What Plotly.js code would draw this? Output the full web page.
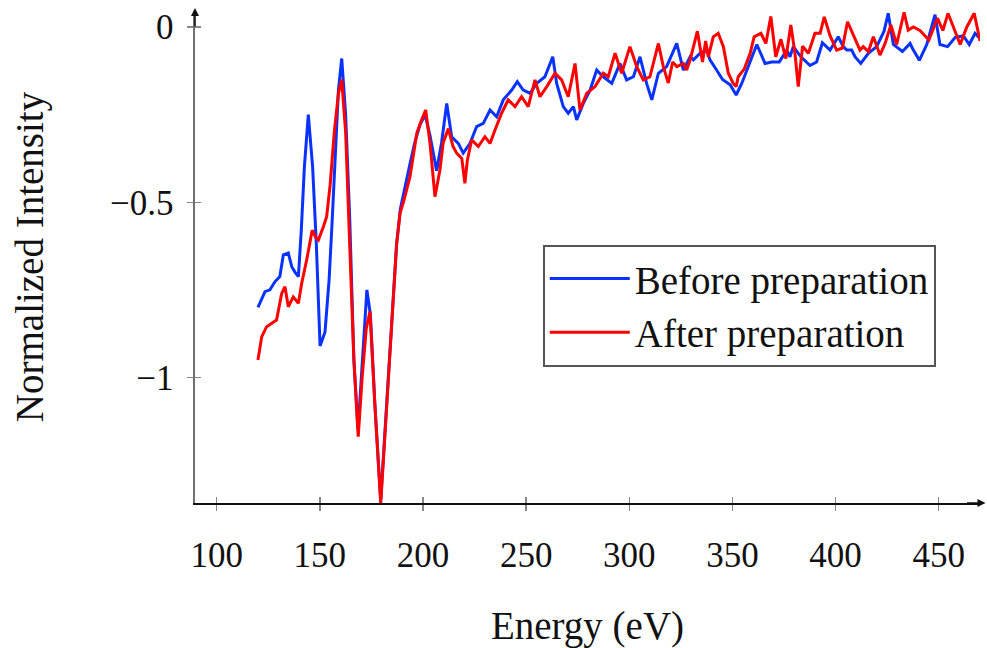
<!DOCTYPE html>
<html><head><meta charset="utf-8">
<script src="https://cdn.plot.ly/plotly-3.0.1.min.js"></script>
<style>html,body{margin:0;padding:0;background:#fff}#chart{width:987px;height:648px}</style>
</head><body><div id="chart"></div>
<script>
// Energy (eV) and normalized intensity
const energyBefore = [120,123.4,125.8,128.2,130.6,132.3,134.7,136.4,138,139.6,141,142.5,144.4,146.5,148.3,150.1,152.5,154.5,156,157.5,159,160.6,162.5,164.5,166.5,168.5,170.5,172.8,174.5,176.7,179.5,182.4,184.8,187.2,189,191,193.7,196,198.5,201,203.4,206.6,209,211.5,213.9,217.1,219.5,222.8,226,229.2,232.5,235.7,238.9,243,245.7,248.6,251.9,255.1,259.1,262.9,264.8,268,270.4,272.9,274.5,277.7,281,284.2,287.4,291.5,295.5,298.7,302,305.2,308.4,310.9,314.1,318.1,323,326.2,329.5,331.1,334.3,337.5,339.1,342,345.2,348.9,351.8,354.5,358.6,361.8,365.8,369,372.7,376.3,377.9,379.5,383.2,387.6,390.8,393.6,397.3,401.3,403.7,405.4,407.8,409.4,412.2,415.9,419.9,423.5,425.5,428,432.4,436.1,437.7,440.6,444.2,448.2,450.6,454.3,457.9,461.9,464.8,467.6,469.2,470];
const intensityBefore = [-0.80,-0.755,-0.75,-0.727,-0.712,-0.65,-0.645,-0.684,-0.70,-0.712,-0.58,-0.40,-0.25,-0.40,-0.62,-0.91,-0.87,-0.72,-0.55,-0.38,-0.18,-0.09,-0.25,-0.55,-0.95,-1.15,-0.95,-0.75,-0.82,-1.08,-1.35,-1.08,-0.84,-0.62,-0.52,-0.46,-0.39,-0.33,-0.28,-0.25,-0.31,-0.41,-0.33,-0.218,-0.313,-0.332,-0.36,-0.332,-0.284,-0.275,-0.237,-0.256,-0.208,-0.18,-0.156,-0.18,-0.189,-0.161,-0.142,-0.085,-0.161,-0.227,-0.246,-0.227,-0.265,-0.218,-0.18,-0.123,-0.142,-0.161,-0.104,-0.151,-0.142,-0.085,-0.161,-0.208,-0.132,-0.113,-0.047,-0.123,-0.085,-0.094,-0.075,-0.066,-0.094,-0.12,-0.15,-0.165,-0.194,-0.161,-0.10,-0.05,-0.104,-0.10,-0.10,-0.066,-0.085,-0.056,-0.085,-0.11,-0.10,-0.045,-0.066,-0.028,-0.056,-0.066,-0.066,-0.085,-0.104,-0.075,-0.056,-0.012,0.039,-0.05,-0.07,-0.047,-0.066,-0.095,-0.05,0.035,-0.05,-0.056,-0.03,-0.025,-0.05,-0.018,-0.028,-0.032];
const energyAfter = [120,121.8,124.2,126.7,129,131.5,133.1,134.7,137.1,139.6,141.2,143.6,145.2,146.3,148,149.3,151.7,153.3,155,157,159,160.6,162.5,164.5,166.5,168.6,170.5,172.5,174.3,176.7,179.5,182.4,184.8,187.2,188.9,190.5,193.7,197,199,201.3,203.4,205.8,208.2,209.8,212.3,214.5,216.3,218.8,220.3,221.5,223.6,226.8,230,232.5,234.9,238.1,241.3,244.6,247.8,251,254.3,256.7,260,264,267.2,270.4,273.7,276.1,279.4,283.4,287.4,289.8,293.1,296.3,300.3,303.6,306.8,310,314.1,316.5,318.9,321,323,326.2,327.8,329.5,333,335.5,337,338.3,340.7,343.1,345.6,348,350.4,351.8,352.8,355.7,358.6,360.5,363.8,366.2,368.6,371,373.5,375.9,378.3,380.3,381.9,384,386.8,390,392.5,394.5,397.3,400.5,403.3,405.8,409,411.8,413.4,415.9,418.3,421.5,424,426.8,429.6,433.2,435.2,437.7,440.9,445.2,449.4,452,454.5,457.1,460.4,463.6,467.2,470];
const intensityAfter = [-0.95,-0.884,-0.855,-0.846,-0.836,-0.76,-0.741,-0.798,-0.77,-0.788,-0.731,-0.665,-0.608,-0.58,-0.60,-0.608,-0.57,-0.541,-0.45,-0.30,-0.19,-0.15,-0.30,-0.60,-0.95,-1.169,-1.0,-0.86,-0.812,-1.08,-1.359,-1.083,-0.845,-0.62,-0.53,-0.50,-0.427,-0.303,-0.27,-0.237,-0.332,-0.484,-0.408,-0.33,-0.29,-0.34,-0.36,-0.375,-0.446,-0.38,-0.322,-0.341,-0.313,-0.332,-0.294,-0.246,-0.208,-0.227,-0.199,-0.227,-0.151,-0.199,-0.17,-0.132,-0.151,-0.199,-0.104,-0.237,-0.189,-0.17,-0.132,-0.142,-0.075,-0.132,-0.056,-0.113,-0.151,-0.142,-0.047,-0.113,-0.16,-0.10,-0.113,-0.104,-0.123,-0.094,-0.012,-0.10,-0.04,-0.085,-0.028,-0.018,-0.056,-0.132,-0.161,-0.17,-0.142,-0.12,-0.075,-0.028,-0.018,-0.047,0.03,-0.085,-0.035,-0.09,0.006,-0.075,-0.17,-0.055,-0.075,-0.018,-0.018,0.029,-0.025,-0.066,-0.06,0.015,-0.028,-0.066,-0.056,-0.07,-0.028,-0.08,-0.047,0.006,-0.05,0.042,-0.009,0.0,-0.01,-0.037,0.025,-0.01,0.039,0.001,-0.05,0.0,0.039,-0.04];
const seriesNames = ['Before preparation', 'After preparation'];
const xTickValues = [100,150,200,250,300,350,400,450];
const yTickValues = [0,-0.5,-1];
const yTickLabels = ['0','\u22120.5','\u22121'];

const FONT = '"Liberation Serif", "Times New Roman", serif';
const traces = [
  {x: energyBefore, y: intensityBefore, name: seriesNames[0], type: 'scatter', mode: 'lines',
   line: {color: '#0a32ff', width: 3}},
  {x: energyAfter, y: intensityAfter, name: seriesNames[1], type: 'scatter', mode: 'lines',
   line: {color: '#ff0000', width: 3}},
  {x: [], y: [], xaxis: 'x2', yaxis: 'y2', showlegend: false, hoverinfo: 'skip'}
];
const xr = [89.48, 470.0], yr = [-1.358, 0.0456];
const layout = {
  width: 987, height: 648,
  margin: {l: 195, r: 7, t: 11, b: 145},
  paper_bgcolor: '#fff', plot_bgcolor: '#fff',
  font: {family: FONT, color: '#111', size: 35},
  showlegend: true,
  legend: {x: 0.443, y: 0.525, xanchor: 'left', yanchor: 'top',
           bordercolor: '#555', borderwidth: 2, bgcolor: '#fff', itemwidth: 80,
           font: {family: FONT, size: 39, color: '#111'}, tracegroupgap: 0},
  xaxis: {range: xr, showgrid: false, zeroline: false,
          showline: true, linecolor: '#111', linewidth: 1.6,
          tickvals: xTickValues, ticks: 'outside', ticklen: 6, tickwidth: 1.5, tickcolor: '#888',
          tickfont: {family: FONT, size: 35, color: '#111'}, ticklabelstandoff: 14,
          title: {text: 'Energy (eV)', font: {family: FONT, size: 39, color: '#111'}, standoff: 40}},
  yaxis: {range: yr, showgrid: false, zeroline: false,
          showline: true, linecolor: '#707070', linewidth: 2.5,
          tickvals: yTickValues, ticktext: yTickLabels, ticks: 'outside', ticklen: 6, tickwidth: 1.5, tickcolor: '#888',
          tickfont: {family: FONT, size: 35, color: '#111'}, ticklabelstandoff: 6,
          title: {text: 'Normalized Intensity', font: {family: FONT, size: 39, color: '#111'}, standoff: 55}},
  xaxis2: {range: xr, overlaying: 'x', showgrid: false, zeroline: false, showline: false,
           tickvals: xTickValues, ticks: 'inside', ticklen: 6, tickwidth: 1.5, tickcolor: '#888', showticklabels: false},
  yaxis2: {range: yr, overlaying: 'y', showgrid: false, zeroline: false, showline: false,
           tickvals: yTickValues, ticks: 'inside', ticklen: 6, tickwidth: 1.5, tickcolor: '#888', showticklabels: false},
  annotations: [
    {xref: 'paper', yref: 'paper', x: 1.007, y: 0, ax: -20, ay: 0, text: '', showarrow: true,
     arrowhead: 2, arrowsize: 1, arrowwidth: 1.6, arrowcolor: '#111'},
    {xref: 'paper', yref: 'paper', x: 0, y: 1.006, ax: 0, ay: 20, text: '', showarrow: true,
     arrowhead: 2, arrowsize: 1, arrowwidth: 1.6, arrowcolor: '#111'}
  ]
};
Plotly.newPlot('chart', traces, layout, {displayModeBar: false, staticPlot: true});
</script></body></html>
